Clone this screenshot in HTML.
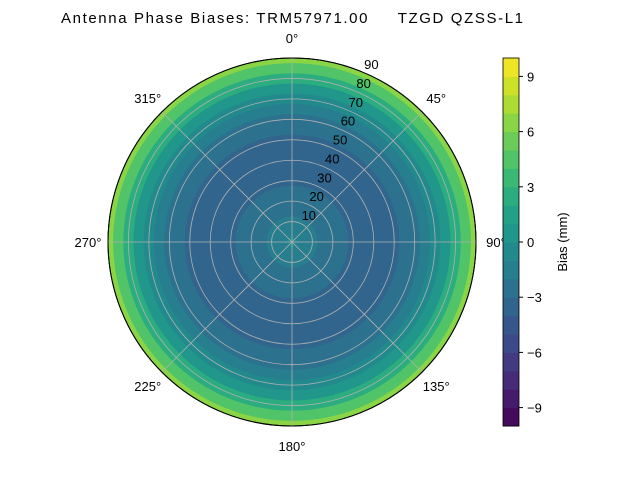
<!DOCTYPE html>
<html><head><meta charset="utf-8"><style>
body{margin:0;background:#fff;}
svg text{font-family:"Liberation Sans","DejaVu Sans",sans-serif;font-size:13px;fill:#000;}
</style></head><body>
<svg id="chart" width="640" height="480" xmlns="http://www.w3.org/2000/svg">
<text x="61" y="23" textLength="462" lengthAdjust="spacing" style="font-size:15px;white-space:pre" xml:space="preserve">Antenna Phase Biases: TRM57971.00     TZGD QZSS-L1</text>
<g id="plot"></g>
<g id="cbar"></g>
</svg>
<script>
const zenithAngles=[0,5,10,15,20,25,30,35,40,45,50,55,60,65,70,75,80,85,90];
const biasValues=[-1,-1.5,-2,-2.5,-3,-3,-3.5,-3.5,-3.5,-3.5,-3.5,-3,-3,-2,-1,0.5,2,4,6.5];
const ringTicks=[10,20,30,40,50,60,70,80,90];
const angleTicks=[0,45,90,135,180,225,270,315];
const cbarTicks=[-9,-6,-3,0,3,6,9];
const NS="http://www.w3.org/2000/svg";
const cx=292,cy=242,R=184,vmin=-10,vmax=10,nLev=20;
const rScale=z=>z/90*R;
const vir=[[68,1,84],[72,35,116],[64,67,135],[52,94,141],[41,120,142],[32,144,140],[34,167,132],[68,190,112],[121,209,81],[189,223,38],[253,231,37]];
function viridis(t){t=Math.max(0,Math.min(1,t));const f=t*10,i=Math.min(9,Math.floor(f)),u=f-i;const a=vir[i],b=vir[i+1];return `rgb(${a.map((c,k)=>Math.round(c+(b[k]-c)*u)).join(',')})`;}
function levColor(v){let b=Math.floor((v-vmin)/(vmax-vmin)*nLev);b=Math.max(0,Math.min(nLev-1,b));return viridis((b+0.5)/nLev);}
function mk(tag,attrs,parent){const e=document.createElementNS(NS,tag);for(const k in attrs)e.setAttribute(k,attrs[k]);parent.appendChild(e);return e;}
const plot=document.getElementById('plot');
for(let i=zenithAngles.length-1;i>=0;i--){
  const z=i===zenithAngles.length-1?zenithAngles[i]:zenithAngles[i]+2.5;
  const c=mk('circle',{cx:cx,cy:cy,r:rScale(Math.min(90,z)),fill:levColor(biasValues[i])},plot);
  
  
}
ringTicks.forEach(t=>{
  const c=mk('circle',{cx:cx,cy:cy,r:rScale(t),fill:'none',stroke:t===90?'#000':'#b0b0b0','stroke-width':t===90?1:0.8},plot);
  
  
  const a=22.5*Math.PI/180,r=rScale(t);
  const tx=mk('text',{x:cx+r*Math.sin(a)+9,y:cy-r*Math.cos(a)-3,'text-anchor':'middle'},plot);
  tx.textContent=t;
  
  
});
angleTicks.forEach(d=>{
  const a=d*Math.PI/180;
  const l=mk('line',{x1:cx,y1:cy,x2:cx+R*Math.sin(a),y2:cy-R*Math.cos(a),stroke:'#b0b0b0','stroke-width':0.8},plot);
  
  
  const tx=mk('text',{x:cx+204*Math.sin(a),y:cy-204*Math.cos(a)+5,'text-anchor':'middle'},plot);
  tx.textContent=d+'°';
  
  
});
const border=mk('circle',{cx:cx,cy:cy,r:R,fill:'none',stroke:'#000','stroke-width':1},plot);


const cb=document.getElementById('cbar');
const bx=503,bw=16,by0=58,by1=426;
const cy_=v=>by1-(v-vmin)/(vmax-vmin)*(by1-by0);
for(let b=0;b<nLev;b++){
  const v0=vmin+b*(vmax-vmin)/nLev,v1=v0+(vmax-vmin)/nLev;
  const r=mk('rect',{x:bx,y:cy_(v1),width:bw,height:cy_(v0)-cy_(v1)+0.5,fill:viridis((b+0.5)/nLev)},cb);
  
  
}
const cbf=mk('rect',{x:bx,y:by0,width:bw,height:by1-by0,fill:'none',stroke:'#000','stroke-width':0.8},cb);


cbarTicks.forEach(t=>{
  const y=cy_(t);
  const l=mk('line',{x1:bx+bw,y1:y,x2:bx+bw+4,y2:y,stroke:'#000'},cb);
  
  
  const tx=mk('text',{x:bx+bw+8,y:y+5},cb);
  tx.textContent=t<0?'\u2212'+(-t):t;
  
  
});
const lab=mk('text',{x:567,y:242,'text-anchor':'middle',transform:'rotate(-90 567 242)'},cb);
lab.textContent='Bias (mm)';


</script>
</body></html>
